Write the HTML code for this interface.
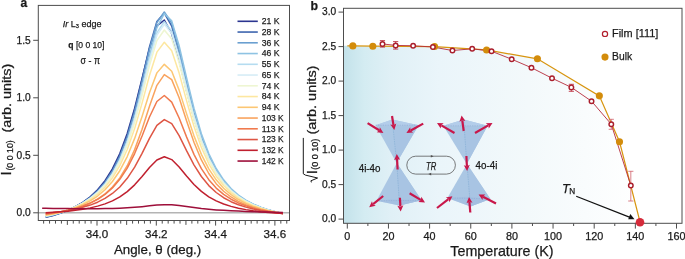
<!DOCTYPE html>
<html><head><meta charset="utf-8"><style>
html,body{margin:0;padding:0;background:#fff;}
svg{display:block;will-change:transform;}
text{font-family:"Liberation Sans", sans-serif;fill:#1a1a1a;stroke:#1a1a1a;stroke-width:0.25px;}
</style></head><body>
<svg width="685" height="259" viewBox="0 0 685 259">
<line x1="38.3" y1="212.80" x2="289.5" y2="212.80" stroke="#b4b4b4" stroke-width="1.6"/>
<polyline points="45.71,217.40 53.12,215.43 60.53,213.07 67.94,210.20 75.36,206.69 82.77,202.32 90.18,196.83 97.59,189.81 105.01,180.75 112.42,168.94 119.83,153.49 127.24,133.45 134.66,108.19 142.07,78.52 149.48,48.37 156.89,25.86 164.31,20.05 171.72,33.68 179.13,60.42 186.54,90.83 193.96,118.56 201.37,141.25 208.78,158.90 216.19,172.37 223.61,182.60 231.02,190.41 238.43,196.43 245.84,201.11 253.26,204.79 260.67,207.71 268.08,210.05 275.49,211.95 282.91,213.49" fill="none" stroke="#2b3590" stroke-width="1.5" stroke-linejoin="round"/>
<polyline points="45.71,217.06 53.12,215.19 60.53,212.95 67.94,210.23 75.36,206.89 82.77,202.73 90.18,197.47 97.59,190.74 105.01,182.00 112.42,170.54 119.83,155.42 127.24,135.56 134.66,110.07 142.07,79.36 149.48,47.00 156.89,21.41 164.31,13.08 171.72,26.16 179.13,54.16 186.54,86.46 193.96,115.82 201.37,139.64 208.78,158.01 216.19,171.89 223.61,182.35 231.02,190.30 238.43,196.38 245.84,201.09 253.26,204.79 260.67,207.72 268.08,210.06 275.49,211.95 282.91,213.49" fill="none" stroke="#3d64ae" stroke-width="1.5" stroke-linejoin="round"/>
<polyline points="45.71,216.83 53.12,215.01 60.53,212.82 67.94,210.17 75.36,206.91 82.77,202.85 90.18,197.72 97.59,191.16 105.01,182.66 112.42,171.51 119.83,156.80 127.24,137.44 134.66,112.50 142.07,82.15 149.48,49.54 156.89,22.61 164.31,12.01 171.72,22.98 179.13,50.01 186.54,82.43 193.96,112.44 201.37,137.00 208.78,156.01 216.19,170.39 223.61,181.24 231.02,189.47 238.43,195.77 245.84,200.65 253.26,204.48 260.67,207.50 268.08,209.93 275.49,211.89 282.91,213.49" fill="none" stroke="#6a9fd0" stroke-width="1.5" stroke-linejoin="round"/>
<polyline points="45.71,216.59 53.12,214.87 60.53,212.79 67.94,210.27 75.36,207.17 82.77,203.32 90.18,198.46 97.59,192.25 105.01,184.21 112.42,173.69 119.83,159.79 127.24,141.48 134.66,117.74 142.07,88.45 149.48,56.06 156.89,27.58 164.31,13.58 171.72,20.85 179.13,45.67 186.54,77.66 193.96,108.24 201.37,133.67 208.78,153.48 216.19,168.51 223.61,179.85 231.02,188.45 238.43,195.03 245.84,200.11 253.26,204.10 260.67,207.25 268.08,209.78 275.49,211.82 282.91,213.49" fill="none" stroke="#8ec3e3" stroke-width="1.5" stroke-linejoin="round"/>
<polyline points="45.71,216.25 53.12,214.55 60.53,212.52 67.94,210.04 75.36,206.99 82.77,203.19 90.18,198.40 97.59,192.26 105.01,184.31 112.42,173.88 119.83,160.12 127.24,141.99 134.66,118.58 142.07,89.98 149.48,58.95 156.89,32.80 164.31,21.69 171.72,31.09 179.13,56.24 186.54,87.05 193.96,115.83 201.37,139.51 208.78,157.87 216.19,171.77 223.61,182.27 231.02,190.23 238.43,196.32 245.84,201.04 253.26,204.74 260.67,207.68 268.08,210.03 275.49,211.94 282.91,213.49" fill="none" stroke="#b5dcf0" stroke-width="1.5" stroke-linejoin="round"/>
<polyline points="45.71,216.02 53.12,214.35 60.53,212.35 67.94,209.91 75.36,206.91 82.77,203.17 90.18,198.45 97.59,192.40 105.01,184.57 112.42,174.29 119.83,160.72 127.24,142.84 134.66,119.76 142.07,91.55 149.48,60.96 156.89,35.17 164.31,24.22 171.72,33.49 179.13,58.31 186.54,88.70 193.96,117.10 201.37,140.46 208.78,158.57 216.19,172.29 223.61,182.65 231.02,190.50 238.43,196.52 245.84,201.18 253.26,204.84 260.67,207.74 268.08,210.07 275.49,211.95 282.91,213.49" fill="none" stroke="#d6edf6" stroke-width="1.5" stroke-linejoin="round"/>
<polyline points="45.71,215.79 53.12,214.18 60.53,212.24 67.94,209.88 75.36,206.98 82.77,203.36 90.18,198.79 97.59,192.94 105.01,185.34 112.42,175.38 119.83,162.24 127.24,144.91 134.66,122.55 142.07,95.22 149.48,65.57 156.89,40.58 164.31,29.97 171.72,38.96 179.13,63.02 186.54,92.48 193.96,120.01 201.37,142.65 208.78,160.21 216.19,173.52 223.61,183.56 231.02,191.18 238.43,197.01 245.84,201.54 253.26,205.09 260.67,207.90 268.08,210.16 275.49,211.99 282.91,213.49" fill="none" stroke="#eef6d2" stroke-width="1.5" stroke-linejoin="round"/>
<polyline points="45.71,215.56 53.12,214.06 60.53,212.26 67.94,210.06 75.36,207.35 82.77,203.98 90.18,199.72 97.59,194.26 105.01,187.18 112.42,177.89 119.83,165.63 127.24,149.48 134.66,128.62 142.07,103.13 149.48,75.47 156.89,52.17 164.31,42.27 171.72,50.66 179.13,73.11 186.54,100.59 193.96,126.27 201.37,147.39 208.78,163.77 216.19,176.18 223.61,185.55 231.02,192.66 238.43,198.11 245.84,202.33 253.26,205.64 260.67,208.27 268.08,210.38 275.49,212.09 282.91,213.49" fill="none" stroke="#fde7a0" stroke-width="1.5" stroke-linejoin="round"/>
<polyline points="45.71,215.10 53.12,213.76 60.53,212.14 67.94,210.17 75.36,207.75 82.77,204.73 90.18,200.92 97.59,196.05 105.01,189.76 112.42,181.53 119.83,170.71 127.24,156.55 134.66,138.40 142.07,116.39 149.48,92.72 156.89,72.88 164.31,64.36 171.72,71.23 179.13,90.12 186.54,113.61 193.96,135.86 201.37,154.36 208.78,168.83 216.19,179.87 223.61,188.25 231.02,194.63 238.43,199.54 245.84,203.35 253.26,206.35 260.67,208.74 268.08,210.65 275.49,212.21 282.91,213.49" fill="none" stroke="#fcc673" stroke-width="1.5" stroke-linejoin="round"/>
<polyline points="45.71,214.53 53.12,213.46 60.53,212.17 67.94,210.59 75.36,208.64 82.77,206.20 90.18,203.10 97.59,199.13 105.01,193.94 112.42,187.08 119.83,177.94 127.24,165.73 134.66,149.63 142.07,129.32 149.48,106.26 156.89,85.35 164.31,74.64 171.72,79.65 179.13,97.67 186.54,120.68 193.96,142.30 201.37,159.96 208.78,173.51 216.19,183.67 223.61,191.26 231.02,196.97 238.43,201.32 245.84,204.67 253.26,207.30 260.67,209.37 268.08,211.04 275.49,212.39 282.91,213.49" fill="none" stroke="#f9a35e" stroke-width="1.5" stroke-linejoin="round"/>
<polyline points="45.71,213.95 53.12,212.93 60.53,211.71 67.94,210.20 75.36,208.35 82.77,206.02 90.18,203.07 97.59,199.29 105.01,194.37 112.42,187.90 119.83,179.35 127.24,168.09 134.66,153.58 142.07,135.93 149.48,117.00 156.89,101.47 164.31,95.50 171.72,102.10 179.13,117.96 186.54,136.87 193.96,154.34 201.37,168.64 208.78,179.70 216.19,188.09 223.61,194.42 231.02,199.24 238.43,202.94 245.84,205.81 253.26,208.08 260.67,209.88 268.08,211.33 275.49,212.52 282.91,213.49" fill="none" stroke="#f07a4e" stroke-width="1.5" stroke-linejoin="round"/>
<polyline points="45.71,213.38 53.12,212.61 60.53,211.67 67.94,210.53 75.36,209.11 82.77,207.34 90.18,205.09 97.59,202.19 105.01,198.43 112.42,193.48 119.83,186.94 127.24,178.31 134.66,167.12 142.07,153.39 149.48,138.35 156.89,125.44 164.31,119.58 171.72,123.67 179.13,135.66 186.54,150.64 193.96,164.79 201.37,176.49 208.78,185.59 216.19,192.50 223.61,197.73 231.02,201.70 238.43,204.75 245.84,207.13 253.26,209.00 260.67,210.49 268.08,211.69 275.49,212.68 282.91,213.49" fill="none" stroke="#de5544" stroke-width="1.5" stroke-linejoin="round"/>
<polyline points="45.71,212.80 53.12,212.35 60.53,211.80 67.94,211.13 75.36,210.29 82.77,209.23 90.18,207.87 97.59,206.13 105.01,203.86 112.42,200.86 119.83,196.89 127.24,191.65 134.66,184.87 142.07,176.58 149.48,167.57 156.89,159.99 164.31,156.80 171.72,159.59 179.13,166.97 186.54,176.00 193.96,184.45 201.37,191.40 208.78,196.80 216.19,200.90 223.61,204.01 231.02,206.38 238.43,208.20 245.84,209.63 253.26,210.75 260.67,211.66 268.08,212.39 275.49,212.99 282.91,213.49" fill="none" stroke="#c0202f" stroke-width="1.5" stroke-linejoin="round"/>
<polyline points="42.15,208.30 45.71,208.35 53.12,208.43 60.53,208.51 67.94,208.58 75.36,208.63 82.77,208.66 90.18,208.66 97.59,208.63 105.01,208.55 112.42,208.40 119.83,208.17 127.24,207.82 134.66,207.32 142.07,206.66 149.48,205.87 156.89,205.11 164.31,204.66 171.72,204.79 179.13,205.50 186.54,206.53 193.96,207.58 201.37,208.51 208.78,209.27 216.19,209.88 223.61,210.37 231.02,210.78 238.43,211.12 245.84,211.42 253.26,211.68 260.67,211.91 268.08,212.12 275.49,212.32 282.91,212.50" fill="none" stroke="#9e0f3a" stroke-width="1.5" stroke-linejoin="round"/>
<rect x="38.3" y="5.4" width="251.2" height="215.1" fill="none" stroke="#4d4d4d" stroke-width="1"/>
<line x1="33.2" y1="212.80" x2="38.3" y2="212.80" stroke="#4d4d4d" stroke-width="1"/>
<text x="30.7" y="216.05" font-size="10.2" text-anchor="end">0.0</text>
<line x1="33.2" y1="155.30" x2="38.3" y2="155.30" stroke="#4d4d4d" stroke-width="1"/>
<text x="30.7" y="158.55" font-size="10.2" text-anchor="end">0.5</text>
<line x1="33.2" y1="97.80" x2="38.3" y2="97.80" stroke="#4d4d4d" stroke-width="1"/>
<text x="30.7" y="101.05" font-size="10.2" text-anchor="end">1.0</text>
<line x1="33.2" y1="40.30" x2="38.3" y2="40.30" stroke="#4d4d4d" stroke-width="1"/>
<text x="30.7" y="43.55" font-size="10.2" text-anchor="end">1.5</text>
<line x1="43.63" y1="220.5" x2="43.63" y2="223.6" stroke="#4d4d4d" stroke-width="1"/>
<line x1="49.56" y1="220.5" x2="49.56" y2="223.6" stroke="#4d4d4d" stroke-width="1"/>
<line x1="55.49" y1="220.5" x2="55.49" y2="223.6" stroke="#4d4d4d" stroke-width="1"/>
<line x1="61.42" y1="220.5" x2="61.42" y2="223.6" stroke="#4d4d4d" stroke-width="1"/>
<line x1="67.35" y1="220.5" x2="67.35" y2="224.9" stroke="#4d4d4d" stroke-width="1"/>
<line x1="73.28" y1="220.5" x2="73.28" y2="223.6" stroke="#4d4d4d" stroke-width="1"/>
<line x1="79.21" y1="220.5" x2="79.21" y2="223.6" stroke="#4d4d4d" stroke-width="1"/>
<line x1="85.14" y1="220.5" x2="85.14" y2="223.6" stroke="#4d4d4d" stroke-width="1"/>
<line x1="91.07" y1="220.5" x2="91.07" y2="223.6" stroke="#4d4d4d" stroke-width="1"/>
<line x1="97.00" y1="220.5" x2="97.00" y2="225.6" stroke="#4d4d4d" stroke-width="1"/>
<line x1="102.93" y1="220.5" x2="102.93" y2="223.6" stroke="#4d4d4d" stroke-width="1"/>
<line x1="108.86" y1="220.5" x2="108.86" y2="223.6" stroke="#4d4d4d" stroke-width="1"/>
<line x1="114.79" y1="220.5" x2="114.79" y2="223.6" stroke="#4d4d4d" stroke-width="1"/>
<line x1="120.72" y1="220.5" x2="120.72" y2="223.6" stroke="#4d4d4d" stroke-width="1"/>
<line x1="126.65" y1="220.5" x2="126.65" y2="224.9" stroke="#4d4d4d" stroke-width="1"/>
<line x1="132.58" y1="220.5" x2="132.58" y2="223.6" stroke="#4d4d4d" stroke-width="1"/>
<line x1="138.51" y1="220.5" x2="138.51" y2="223.6" stroke="#4d4d4d" stroke-width="1"/>
<line x1="144.44" y1="220.5" x2="144.44" y2="223.6" stroke="#4d4d4d" stroke-width="1"/>
<line x1="150.37" y1="220.5" x2="150.37" y2="223.6" stroke="#4d4d4d" stroke-width="1"/>
<line x1="156.30" y1="220.5" x2="156.30" y2="225.6" stroke="#4d4d4d" stroke-width="1"/>
<line x1="162.23" y1="220.5" x2="162.23" y2="223.6" stroke="#4d4d4d" stroke-width="1"/>
<line x1="168.16" y1="220.5" x2="168.16" y2="223.6" stroke="#4d4d4d" stroke-width="1"/>
<line x1="174.09" y1="220.5" x2="174.09" y2="223.6" stroke="#4d4d4d" stroke-width="1"/>
<line x1="180.02" y1="220.5" x2="180.02" y2="223.6" stroke="#4d4d4d" stroke-width="1"/>
<line x1="185.95" y1="220.5" x2="185.95" y2="224.9" stroke="#4d4d4d" stroke-width="1"/>
<line x1="191.88" y1="220.5" x2="191.88" y2="223.6" stroke="#4d4d4d" stroke-width="1"/>
<line x1="197.81" y1="220.5" x2="197.81" y2="223.6" stroke="#4d4d4d" stroke-width="1"/>
<line x1="203.74" y1="220.5" x2="203.74" y2="223.6" stroke="#4d4d4d" stroke-width="1"/>
<line x1="209.67" y1="220.5" x2="209.67" y2="223.6" stroke="#4d4d4d" stroke-width="1"/>
<line x1="215.60" y1="220.5" x2="215.60" y2="225.6" stroke="#4d4d4d" stroke-width="1"/>
<line x1="221.53" y1="220.5" x2="221.53" y2="223.6" stroke="#4d4d4d" stroke-width="1"/>
<line x1="227.46" y1="220.5" x2="227.46" y2="223.6" stroke="#4d4d4d" stroke-width="1"/>
<line x1="233.39" y1="220.5" x2="233.39" y2="223.6" stroke="#4d4d4d" stroke-width="1"/>
<line x1="239.32" y1="220.5" x2="239.32" y2="223.6" stroke="#4d4d4d" stroke-width="1"/>
<line x1="245.25" y1="220.5" x2="245.25" y2="224.9" stroke="#4d4d4d" stroke-width="1"/>
<line x1="251.18" y1="220.5" x2="251.18" y2="223.6" stroke="#4d4d4d" stroke-width="1"/>
<line x1="257.11" y1="220.5" x2="257.11" y2="223.6" stroke="#4d4d4d" stroke-width="1"/>
<line x1="263.04" y1="220.5" x2="263.04" y2="223.6" stroke="#4d4d4d" stroke-width="1"/>
<line x1="268.97" y1="220.5" x2="268.97" y2="223.6" stroke="#4d4d4d" stroke-width="1"/>
<line x1="274.90" y1="220.5" x2="274.90" y2="225.6" stroke="#4d4d4d" stroke-width="1"/>
<line x1="280.83" y1="220.5" x2="280.83" y2="223.6" stroke="#4d4d4d" stroke-width="1"/>
<line x1="286.76" y1="220.5" x2="286.76" y2="223.6" stroke="#4d4d4d" stroke-width="1"/>
<text x="97.00" y="237.5" font-size="11.6" text-anchor="middle">34.0</text>
<text x="156.30" y="237.5" font-size="11.6" text-anchor="middle">34.2</text>
<text x="215.60" y="237.5" font-size="11.6" text-anchor="middle">34.4</text>
<text x="274.90" y="237.5" font-size="11.6" text-anchor="middle">34.6</text>
<text x="113.9" y="253.6" font-size="12.8" textLength="87.3" lengthAdjust="spacingAndGlyphs">Angle, θ (deg.)</text>
<text x="20.4" y="6.6" font-size="12" font-weight="bold">a</text>
<text x="62.8" y="26.7" font-size="9.9" textLength="38.8" lengthAdjust="spacingAndGlyphs"><tspan font-style="italic">Ir</tspan> L<tspan font-size="6.2" dy="0.9">3</tspan><tspan dy="-0.9"> edge</tspan></text>
<text x="68.3" y="48.2" font-size="9.8" textLength="36.2" lengthAdjust="spacingAndGlyphs"><tspan font-weight="bold">q</tspan> [0 0 10]</text>
<text x="80.6" y="64.4" font-size="10" textLength="19.4" lengthAdjust="spacingAndGlyphs">σ - π</text>
<line x1="237.5" y1="21.30" x2="257.8" y2="21.30" stroke="#2b3590" stroke-width="1.6"/>
<text x="261.8" y="24.05" font-size="9.7" textLength="17.8" lengthAdjust="spacingAndGlyphs">21 K</text>
<line x1="237.5" y1="32.05" x2="257.8" y2="32.05" stroke="#3d64ae" stroke-width="1.6"/>
<text x="261.8" y="34.80" font-size="9.7" textLength="17.8" lengthAdjust="spacingAndGlyphs">28 K</text>
<line x1="237.5" y1="42.80" x2="257.8" y2="42.80" stroke="#6a9fd0" stroke-width="1.6"/>
<text x="261.8" y="45.55" font-size="9.7" textLength="17.8" lengthAdjust="spacingAndGlyphs">36 K</text>
<line x1="237.5" y1="53.55" x2="257.8" y2="53.55" stroke="#8ec3e3" stroke-width="1.6"/>
<text x="261.8" y="56.30" font-size="9.7" textLength="17.8" lengthAdjust="spacingAndGlyphs">46 K</text>
<line x1="237.5" y1="64.30" x2="257.8" y2="64.30" stroke="#b5dcf0" stroke-width="1.6"/>
<text x="261.8" y="67.05" font-size="9.7" textLength="17.8" lengthAdjust="spacingAndGlyphs">55 K</text>
<line x1="237.5" y1="75.05" x2="257.8" y2="75.05" stroke="#d6edf6" stroke-width="1.6"/>
<text x="261.8" y="77.80" font-size="9.7" textLength="17.8" lengthAdjust="spacingAndGlyphs">65 K</text>
<line x1="237.5" y1="85.80" x2="257.8" y2="85.80" stroke="#eef6d2" stroke-width="1.6"/>
<text x="261.8" y="88.55" font-size="9.7" textLength="17.8" lengthAdjust="spacingAndGlyphs">74 K</text>
<line x1="237.5" y1="96.55" x2="257.8" y2="96.55" stroke="#fde7a0" stroke-width="1.6"/>
<text x="261.8" y="99.30" font-size="9.7" textLength="17.8" lengthAdjust="spacingAndGlyphs">84 K</text>
<line x1="237.5" y1="107.30" x2="257.8" y2="107.30" stroke="#fcc673" stroke-width="1.6"/>
<text x="261.8" y="110.05" font-size="9.7" textLength="17.8" lengthAdjust="spacingAndGlyphs">94 K</text>
<line x1="237.5" y1="118.05" x2="257.8" y2="118.05" stroke="#f9a35e" stroke-width="1.6"/>
<text x="261.8" y="120.80" font-size="9.7" textLength="21.9" lengthAdjust="spacingAndGlyphs">103 K</text>
<line x1="237.5" y1="128.80" x2="257.8" y2="128.80" stroke="#f07a4e" stroke-width="1.6"/>
<text x="261.8" y="131.55" font-size="9.7" textLength="21.9" lengthAdjust="spacingAndGlyphs">113 K</text>
<line x1="237.5" y1="139.55" x2="257.8" y2="139.55" stroke="#de5544" stroke-width="1.6"/>
<text x="261.8" y="142.30" font-size="9.7" textLength="21.9" lengthAdjust="spacingAndGlyphs">123 K</text>
<line x1="237.5" y1="150.30" x2="257.8" y2="150.30" stroke="#c0202f" stroke-width="1.6"/>
<text x="261.8" y="153.05" font-size="9.7" textLength="21.9" lengthAdjust="spacingAndGlyphs">132 K</text>
<line x1="237.5" y1="161.05" x2="257.8" y2="161.05" stroke="#9e0f3a" stroke-width="1.6"/>
<text x="261.8" y="163.80" font-size="9.7" textLength="21.9" lengthAdjust="spacingAndGlyphs">142 K</text>
<text transform="rotate(-90)" x="-175.4" y="11.1" font-size="15">I</text>
<text transform="rotate(-90)" x="-170.6" y="13.1" font-size="9.8" textLength="30.3" lengthAdjust="spacingAndGlyphs">(0 0 10)</text>
<text transform="rotate(-90)" x="-132.5" y="10.8" font-size="12" textLength="68.7" lengthAdjust="spacingAndGlyphs">(arb. units)</text>
<defs><linearGradient id="gb" x1="343.5" y1="0" x2="642" y2="0" gradientUnits="userSpaceOnUse"><stop offset="0" stop-color="#c3e2ea"/><stop offset="0.07" stop-color="#d4ecf2"/><stop offset="0.16" stop-color="#e0f0f6"/><stop offset="0.32" stop-color="#eaf5fa"/><stop offset="0.62" stop-color="#f3f9fb"/><stop offset="1" stop-color="#ffffff"/></linearGradient></defs>
<polygon points="343.50,45.77 347.30,45.77 352.86,45.91 372.81,46.19 434.54,46.53 486.59,49.98 537.41,58.81 599.34,95.87 619.51,141.68 640.08,222.20 640.08,223.30 343.50,223.30" fill="url(#gb)"/>
<rect x="343.5" y="8.3" width="338.5" height="215.0" fill="none" stroke="#4d4d4d" stroke-width="1"/>
<line x1="338.5" y1="219.10" x2="343.5" y2="219.10" stroke="#4d4d4d" stroke-width="1"/>
<text x="336.2" y="222.00" font-size="10.2" text-anchor="end">0.0</text>
<line x1="338.5" y1="184.60" x2="343.5" y2="184.60" stroke="#4d4d4d" stroke-width="1"/>
<text x="336.2" y="187.50" font-size="10.2" text-anchor="end">0.5</text>
<line x1="338.5" y1="150.10" x2="343.5" y2="150.10" stroke="#4d4d4d" stroke-width="1"/>
<text x="336.2" y="153.00" font-size="10.2" text-anchor="end">1.0</text>
<line x1="338.5" y1="115.60" x2="343.5" y2="115.60" stroke="#4d4d4d" stroke-width="1"/>
<text x="336.2" y="118.50" font-size="10.2" text-anchor="end">1.5</text>
<line x1="338.5" y1="81.10" x2="343.5" y2="81.10" stroke="#4d4d4d" stroke-width="1"/>
<text x="336.2" y="84.00" font-size="10.2" text-anchor="end">2.0</text>
<line x1="338.5" y1="46.60" x2="343.5" y2="46.60" stroke="#4d4d4d" stroke-width="1"/>
<text x="336.2" y="49.50" font-size="10.2" text-anchor="end">2.5</text>
<line x1="338.5" y1="12.10" x2="343.5" y2="12.10" stroke="#4d4d4d" stroke-width="1"/>
<text x="336.2" y="15.00" font-size="10.2" text-anchor="end">3.0</text>
<line x1="347.30" y1="223.3" x2="347.30" y2="228.60000000000002" stroke="#4d4d4d" stroke-width="1"/>
<text x="347.30" y="240.2" font-size="10.8" text-anchor="middle">0</text>
<line x1="367.88" y1="223.3" x2="367.88" y2="226.0" stroke="#4d4d4d" stroke-width="1"/>
<line x1="388.45" y1="223.3" x2="388.45" y2="228.60000000000002" stroke="#4d4d4d" stroke-width="1"/>
<text x="388.45" y="240.2" font-size="10.8" text-anchor="middle">20</text>
<line x1="409.03" y1="223.3" x2="409.03" y2="226.0" stroke="#4d4d4d" stroke-width="1"/>
<line x1="429.60" y1="223.3" x2="429.60" y2="228.60000000000002" stroke="#4d4d4d" stroke-width="1"/>
<text x="429.60" y="240.2" font-size="10.8" text-anchor="middle">40</text>
<line x1="450.18" y1="223.3" x2="450.18" y2="226.0" stroke="#4d4d4d" stroke-width="1"/>
<line x1="470.75" y1="223.3" x2="470.75" y2="228.60000000000002" stroke="#4d4d4d" stroke-width="1"/>
<text x="470.75" y="240.2" font-size="10.8" text-anchor="middle">60</text>
<line x1="491.33" y1="223.3" x2="491.33" y2="226.0" stroke="#4d4d4d" stroke-width="1"/>
<line x1="511.90" y1="223.3" x2="511.90" y2="228.60000000000002" stroke="#4d4d4d" stroke-width="1"/>
<text x="511.90" y="240.2" font-size="10.8" text-anchor="middle">80</text>
<line x1="532.48" y1="223.3" x2="532.48" y2="226.0" stroke="#4d4d4d" stroke-width="1"/>
<line x1="553.05" y1="223.3" x2="553.05" y2="228.60000000000002" stroke="#4d4d4d" stroke-width="1"/>
<text x="553.05" y="240.2" font-size="10.8" text-anchor="middle">100</text>
<line x1="573.62" y1="223.3" x2="573.62" y2="226.0" stroke="#4d4d4d" stroke-width="1"/>
<line x1="594.20" y1="223.3" x2="594.20" y2="228.60000000000002" stroke="#4d4d4d" stroke-width="1"/>
<text x="594.20" y="240.2" font-size="10.8" text-anchor="middle">120</text>
<line x1="614.78" y1="223.3" x2="614.78" y2="226.0" stroke="#4d4d4d" stroke-width="1"/>
<line x1="635.35" y1="223.3" x2="635.35" y2="228.60000000000002" stroke="#4d4d4d" stroke-width="1"/>
<text x="635.35" y="240.2" font-size="10.8" text-anchor="middle">140</text>
<line x1="655.92" y1="223.3" x2="655.92" y2="226.0" stroke="#4d4d4d" stroke-width="1"/>
<line x1="676.50" y1="223.3" x2="676.50" y2="228.60000000000002" stroke="#4d4d4d" stroke-width="1"/>
<text x="676.50" y="240.2" font-size="10.8" text-anchor="middle">160</text>
<text x="450.3" y="255.9" font-size="15" textLength="103.2" lengthAdjust="spacingAndGlyphs">Temperature (K)</text>
<text x="310.6" y="9.9" font-size="12.3" font-weight="bold">b</text>
<polygon points="375.6,125.2 392.3,119.4 418.5,125.2 396.6,163" fill="#abc7e4"/><polygon points="393.5,125.4 418.5,125.2 396.6,163" fill="#a8c4e3"/><polygon points="375.6,125.2 392.3,119.4 418.5,125.2 393.5,125.4" fill="#b3cdea"/><line x1="375.6" y1="125.2" x2="418.5" y2="125.2" stroke="#8eaad2" stroke-width="0.6" stroke-dasharray="1.2,1.2"/><line x1="392.3" y1="119.4" x2="396.6" y2="163" stroke="#88b0d6" stroke-width="0.7" stroke-dasharray="1.6,0.8"/>
<polygon points="396.8,163 376.5,200.8 399.5,205.5 421.5,200.3" fill="#abc7e4"/><polygon points="396.8,163 399.5,205.5 421.5,200.3" fill="#a8c4e3"/><polygon points="376.5,200.8 399.5,205.5 421.5,200.3 392,199.5" fill="#a0bce0" opacity="0.55"/><line x1="376.5" y1="200.8" x2="421.5" y2="200.3" stroke="#8eaad2" stroke-width="0.6" stroke-dasharray="1.2,1.2"/><line x1="399.5" y1="205.5" x2="396.8" y2="163" stroke="#88b0d6" stroke-width="0.7" stroke-dasharray="1.6,0.8"/>
<polygon points="443.3,125.8 463.7,119.6 487.6,125.8 466.8,164" fill="#abc7e4"/><polygon points="463.5,126 487.6,125.8 466.8,164" fill="#a8c4e3"/><polygon points="443.3,125.8 463.7,119.6 487.6,125.8 463.5,126" fill="#b3cdea"/><line x1="443.3" y1="125.8" x2="487.6" y2="125.8" stroke="#8eaad2" stroke-width="0.6" stroke-dasharray="1.2,1.2"/><line x1="463.7" y1="119.6" x2="466.8" y2="164" stroke="#88b0d6" stroke-width="0.7" stroke-dasharray="1.6,0.8"/>
<polygon points="467,164 447.4,197.9 470.4,206.5 490.4,198.9" fill="#abc7e4"/><polygon points="467,164 470.4,206.5 490.4,198.9" fill="#a8c4e3"/><polygon points="447.4,197.9 470.4,206.5 490.4,198.9 468,196.8" fill="#a0bce0" opacity="0.55"/><line x1="447.4" y1="197.9" x2="490.4" y2="198.9" stroke="#8eaad2" stroke-width="0.6" stroke-dasharray="1.2,1.2"/><line x1="470.4" y1="206.5" x2="467" y2="164" stroke="#88b0d6" stroke-width="0.7" stroke-dasharray="1.6,0.8"/>
<line x1="367.60" y1="123.10" x2="379.15" y2="130.26" stroke="#c8174a" stroke-width="2.2"/><polygon points="383.40,132.90 376.72,132.29 379.32,130.37 379.88,127.19" fill="#c8174a"/>
<line x1="392.00" y1="116.00" x2="393.49" y2="125.07" stroke="#c8174a" stroke-width="2.2"/><polygon points="394.30,130.00 390.37,124.57 393.52,125.26 396.29,123.59" fill="#c8174a"/>
<line x1="423.20" y1="123.60" x2="410.77" y2="130.48" stroke="#c8174a" stroke-width="2.2"/><polygon points="406.40,132.90 410.20,127.37 410.60,130.58 413.10,132.62" fill="#c8174a"/>
<line x1="397.60" y1="169.50" x2="397.06" y2="158.99" stroke="#c8174a" stroke-width="2.2"/><polygon points="396.80,154.00 400.11,159.84 397.05,158.79 394.11,160.15" fill="#c8174a"/>
<line x1="383.20" y1="196.00" x2="373.09" y2="204.16" stroke="#c8174a" stroke-width="2.2"/><polygon points="369.20,207.30 371.98,201.20 372.94,204.29 375.75,205.87" fill="#c8174a"/>
<line x1="399.90" y1="197.80" x2="400.41" y2="206.51" stroke="#c8174a" stroke-width="2.2"/><polygon points="400.70,211.50 397.36,205.69 400.42,206.71 403.35,205.34" fill="#c8174a"/>
<line x1="409.60" y1="193.30" x2="420.70" y2="199.86" stroke="#c8174a" stroke-width="2.2"/><polygon points="425.00,202.40 418.31,201.93 420.87,199.96 421.36,196.76" fill="#c8174a"/>
<line x1="454.50" y1="133.00" x2="441.33" y2="125.40" stroke="#c8174a" stroke-width="2.2"/><polygon points="437.00,122.90 443.70,123.30 441.16,125.30 440.70,128.50" fill="#c8174a"/>
<line x1="463.70" y1="131.00" x2="462.27" y2="120.45" stroke="#c8174a" stroke-width="2.2"/><polygon points="461.60,115.50 465.38,121.04 462.24,120.26 459.43,121.85" fill="#c8174a"/>
<line x1="475.00" y1="133.00" x2="488.17" y2="125.40" stroke="#c8174a" stroke-width="2.2"/><polygon points="492.50,122.90 488.80,128.50 488.34,125.30 485.80,123.30" fill="#c8174a"/>
<line x1="466.40" y1="156.00" x2="466.87" y2="166.01" stroke="#c8174a" stroke-width="2.2"/><polygon points="467.10,171.00 463.82,165.15 466.88,166.21 469.82,164.87" fill="#c8174a"/>
<line x1="437.00" y1="208.00" x2="448.43" y2="199.24" stroke="#c8174a" stroke-width="2.2"/><polygon points="452.40,196.20 449.46,202.23 448.59,199.12 445.81,197.47" fill="#c8174a"/>
<line x1="470.30" y1="212.50" x2="469.42" y2="201.98" stroke="#c8174a" stroke-width="2.2"/><polygon points="469.00,197.00 472.49,202.73 469.40,201.78 466.51,203.23" fill="#c8174a"/>
<line x1="496.00" y1="203.40" x2="483.05" y2="196.78" stroke="#c8174a" stroke-width="2.2"/><polygon points="478.60,194.50 485.31,194.56 482.87,196.69 482.58,199.90" fill="#c8174a"/>
<rect x="406.8" y="156.2" width="48.6" height="17.9" rx="8.9" ry="8.9" fill="none" stroke="#505050" stroke-width="0.75"/>
<polygon points="433.6,156.2 430.8,154.9 430.8,157.5" fill="#505050"/>
<polygon points="428.4,174.1 431.2,172.8 431.2,175.4" fill="#505050"/>
<text x="426.0" y="170" font-size="10" font-style="italic" textLength="10.2" lengthAdjust="spacingAndGlyphs">TR</text>
<text x="358.7" y="172.4" font-size="10.2" textLength="21.8" lengthAdjust="spacingAndGlyphs">4i-4o</text>
<text x="475.6" y="168.9" font-size="10" textLength="21.8" lengthAdjust="spacingAndGlyphs">4o-4i</text>
<polyline points="347.30,45.77 352.86,45.91 372.81,46.19 434.54,46.53 486.59,49.98 537.41,58.81 599.34,95.87 619.51,141.68 640.08,222.20" fill="none" stroke="#d8950f" stroke-width="1.25"/>
<polyline points="382.48,43.91 395.65,45.43 413.14,45.77 432.89,47.01 452.44,50.53 472.19,48.81 491.53,51.22 511.69,59.23 531.45,67.71 552.02,78.20 571.36,87.38 591.53,101.18 611.28,124.22 630.82,185.57" fill="none" stroke="#b52a3a" stroke-width="0.9"/>
<line x1="382.48" y1="40.6" x2="382.48" y2="47.1" stroke="#bf3444" stroke-width="0.9"/>
<line x1="379.88" y1="40.6" x2="385.08" y2="40.6" stroke="#bf3444" stroke-width="0.9"/>
<line x1="379.88" y1="47.1" x2="385.08" y2="47.1" stroke="#bf3444" stroke-width="0.9"/>
<line x1="395.65" y1="41.6" x2="395.65" y2="49.1" stroke="#bf3444" stroke-width="0.9"/>
<line x1="393.05" y1="41.6" x2="398.25" y2="41.6" stroke="#bf3444" stroke-width="0.9"/>
<line x1="393.05" y1="49.1" x2="398.25" y2="49.1" stroke="#bf3444" stroke-width="0.9"/>
<line x1="571.36" y1="84.3" x2="571.36" y2="91.3" stroke="#bf3444" stroke-width="0.9"/>
<line x1="568.76" y1="84.3" x2="573.96" y2="84.3" stroke="#bf3444" stroke-width="0.9"/>
<line x1="568.76" y1="91.3" x2="573.96" y2="91.3" stroke="#bf3444" stroke-width="0.9"/>
<line x1="611.28" y1="119.3" x2="611.28" y2="129.3" stroke="#d0606a" stroke-width="0.8"/>
<line x1="608.68" y1="119.3" x2="613.88" y2="119.3" stroke="#d0606a" stroke-width="0.8"/>
<line x1="608.68" y1="129.3" x2="613.88" y2="129.3" stroke="#d0606a" stroke-width="0.8"/>
<line x1="630.82" y1="171.3" x2="630.82" y2="201.0" stroke="#d0606a" stroke-width="0.8"/>
<line x1="628.22" y1="171.3" x2="633.42" y2="171.3" stroke="#d0606a" stroke-width="0.8"/>
<line x1="628.22" y1="201.0" x2="633.42" y2="201.0" stroke="#d0606a" stroke-width="0.8"/>
<circle cx="352.86" cy="45.91" r="3.55" fill="#d38c0b"/>
<circle cx="372.81" cy="46.19" r="3.55" fill="#d38c0b"/>
<circle cx="434.54" cy="46.53" r="3.55" fill="#d38c0b"/>
<circle cx="486.59" cy="49.98" r="3.55" fill="#d38c0b"/>
<circle cx="537.41" cy="58.81" r="3.55" fill="#d38c0b"/>
<circle cx="599.34" cy="95.87" r="3.55" fill="#d38c0b"/>
<circle cx="619.51" cy="141.68" r="3.55" fill="#d38c0b"/>
<circle cx="382.48" cy="43.91" r="2.25" fill="#fff" stroke="#aa1e2c" stroke-width="1.45"/>
<circle cx="395.65" cy="45.43" r="2.25" fill="#fff" stroke="#aa1e2c" stroke-width="1.45"/>
<circle cx="413.14" cy="45.77" r="2.25" fill="#fff" stroke="#aa1e2c" stroke-width="1.45"/>
<circle cx="432.89" cy="47.01" r="2.25" fill="#fff" stroke="#aa1e2c" stroke-width="1.45"/>
<circle cx="452.44" cy="50.53" r="2.25" fill="#fff" stroke="#aa1e2c" stroke-width="1.45"/>
<circle cx="472.19" cy="48.81" r="2.25" fill="#fff" stroke="#aa1e2c" stroke-width="1.45"/>
<circle cx="491.53" cy="51.22" r="2.25" fill="#fff" stroke="#aa1e2c" stroke-width="1.45"/>
<circle cx="511.69" cy="59.23" r="2.25" fill="#fff" stroke="#aa1e2c" stroke-width="1.45"/>
<circle cx="531.45" cy="67.71" r="2.25" fill="#fff" stroke="#aa1e2c" stroke-width="1.45"/>
<circle cx="552.02" cy="78.20" r="2.25" fill="#fff" stroke="#aa1e2c" stroke-width="1.45"/>
<circle cx="571.36" cy="87.38" r="2.25" fill="#fff" stroke="#aa1e2c" stroke-width="1.45"/>
<circle cx="591.53" cy="101.18" r="2.25" fill="#fff" stroke="#aa1e2c" stroke-width="1.45"/>
<circle cx="611.28" cy="124.22" r="2.25" fill="#fff" stroke="#aa1e2c" stroke-width="1.45"/>
<circle cx="630.82" cy="185.57" r="2.25" fill="#fff" stroke="#aa1e2c" stroke-width="1.45"/>
<circle cx="640" cy="222.2" r="4.3" fill="#d52b3b"/>
<line x1="576.2" y1="196.2" x2="630" y2="217.4" stroke="#111" stroke-width="1.2"/>
<polygon points="634.5,219.2 628.2,219.3 630.3,214.1" fill="#111"/>
<text x="562.0" y="192.7" font-size="12.7" font-style="italic">T</text>
<text x="569.2" y="194.4" font-size="8.2">N</text>
<circle cx="605" cy="33.9" r="2.6" fill="#fff" stroke="#b2202e" stroke-width="1.2"/>
<text x="612" y="37.2" font-size="11.4" textLength="46.3" lengthAdjust="spacingAndGlyphs">Film [111]</text>
<circle cx="605" cy="57.1" r="3.55" fill="#d38c0b"/>
<text x="612" y="60.0" font-size="11.4" textLength="20.1" lengthAdjust="spacingAndGlyphs">Bulk</text>
<polyline points="303.3,137.9 303.3,173.8 305.4,175.1 317.6,178 310.9,180.8 311.4,182.4" fill="none" stroke="#1a1a1a" stroke-width="1" stroke-linejoin="miter"/>
<text transform="rotate(-90)" x="-174.3" y="316.6" font-size="15.1">I</text>
<text transform="rotate(-90)" x="-169.8" y="317.9" font-size="9.8" textLength="31" lengthAdjust="spacingAndGlyphs">(0 0 10)</text>
<text transform="rotate(-90)" x="-134.6" y="315.5" font-size="13.4" textLength="69" lengthAdjust="spacingAndGlyphs">(arb. units)</text>
</svg></body></html>
